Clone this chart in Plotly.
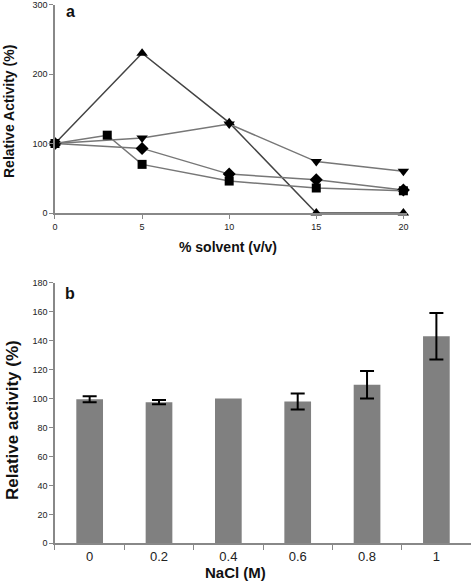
import plotly.graph_objects as go

# Panel a data
x_sq = [0, 3, 5, 10, 15, 20]
y_sq = [100, 112, 70, 46, 36, 32]
x_di = [0, 5, 10, 15, 20]
y_di = [100, 93, 56, 48, 33]
x_tu = [0, 5, 10, 15, 20]
y_tu = [100, 230, 130, 0, 0]
x_td = [0, 5, 10, 15, 20]
y_td = [100, 108, 128, 74, 60]

# Panel b data
nacl = ["0", "0.2", "0.4", "0.6", "0.8", "1"]
activity = [99.5, 97.5, 100, 98, 109.5, 143]
err = [2, 1.5, 0, 5.5, 9.5, 16]

FONT = "Arial, Liberation Sans, sans-serif"
W, H = 472, 587

fig = go.Figure()

def series(x, y, sym, size, lc):
    fig.add_trace(go.Scatter(x=x, y=y, mode="lines+markers",
                             line=dict(color=lc, width=1.5),
                             marker=dict(symbol=sym, size=size, color="black"),
                             cliponaxis=False,
                             xaxis="x", yaxis="y", showlegend=False))

series(x_tu, y_tu, "triangle-up", 10, "#444444")
series(x_td, y_td, "triangle-down", 10, "#777777")
series(x_di, y_di, "diamond", 10, "#777777")
series(x_sq, y_sq, "square", 9, "#777777")

fig.add_trace(go.Bar(x=nacl, y=activity, marker=dict(color="#808080", line=dict(width=0)),
                     xaxis="x2", yaxis="y2", showlegend=False, width=0.385))

# error bars only where an error was measured
idx = [i for i, e in enumerate(err) if e > 0]
fig.add_trace(go.Scatter(x=[nacl[i] for i in idx], y=[activity[i] for i in idx], mode="markers",
                         marker=dict(size=0.1, color="rgba(0,0,0,0)"),
                         error_y=dict(type="data", array=[err[i] for i in idx], color="black",
                                      thickness=2, width=7),
                         cliponaxis=False, xaxis="x2", yaxis="y2", showlegend=False))

axis_common = dict(showline=True, linecolor="#888888", linewidth=1.5, ticks="outside",
                   tickcolor="#888888", showgrid=False, zeroline=False, automargin=False,
                   ticklabeloverflow="allow",
                   tickfont=dict(family=FONT, size=9, color="#222222"))

def px(x, y):
    return x / W, 1 - y / H

annots = []
def text(t, x, y, size, angle=0):
    ax, ay = px(x, y)
    annots.append(dict(text=t, x=ax, y=ay, xref="paper", yref="paper", showarrow=False,
                       textangle=angle, xanchor="center", yanchor="middle",
                       font=dict(family=FONT, size=size, color="#111111")))

text("<b>a</b>", 70, 11, 16)
text("<b>b</b>", 70, 293, 16)
text("<b>% solvent (v/v)</b>", 228, 247, 14)
text("<b>Relative Activity (%)</b>", 9, 112, 14, -90)
text("<b>NaCl (M)</b>", 235, 572, 15)
text("<b>Relative activity (%)</b>", 12, 420, 17, -90)

fig.update_layout(
    width=W, height=H, margin=dict(l=0, r=0, t=0, b=0),
    paper_bgcolor="white", plot_bgcolor="white",
    xaxis=dict(domain=[0.1165, 0.862], range=[0, 20.2], tickvals=[0, 5, 10, 15, 20],
               ticklen=4, anchor="y", **axis_common),
    yaxis=dict(domain=[0.6371, 0.9923], range=[0, 300], tickvals=[0, 100, 200, 300],
               ticklen=4, anchor="x", **axis_common),
    xaxis2=dict(domain=[0.1165, 0.998], range=[-0.5, 5.5], type="category", tickson="boundaries",
                ticklen=5, anchor="y2",
                **{**axis_common, "tickfont": dict(family=FONT, size=13, color="#222222")}),
    yaxis2=dict(domain=[0.0744, 0.5184], range=[0, 180], dtick=20, ticklen=4, anchor="x2",
                **axis_common),
    annotations=annots,
)
fig.write_html("out.html", config={"displayModeBar": False},
               post_script="document.body.style.margin='0';")
